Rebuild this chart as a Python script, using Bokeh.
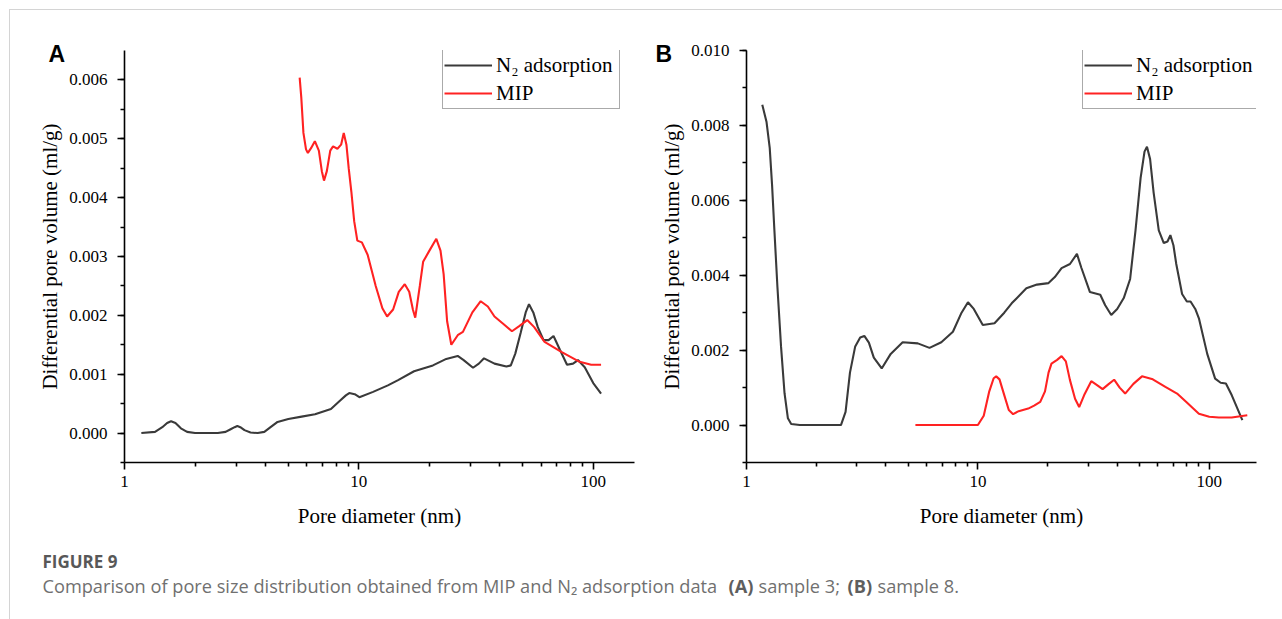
from bokeh.plotting import figure
from bokeh.layouts import column, row
from bokeh.models import (Range1d, FixedTicker, SingleIntervalTicker, NumeralTickFormatter,
                          Legend, LegendItem, Label)
from bokeh.embed import file_html
from bokeh.resources import INLINE

# ---------------- data ----------------
# Panel A (sample 3)
a_n2_x = [1.18, 1.35, 1.45, 1.52, 1.58, 1.65, 1.74, 1.85, 2.0, 2.5, 2.7, 2.85, 2.95, 3.03, 3.12,
          3.25, 3.45, 3.7, 3.95, 4.2, 4.5, 5.0, 5.7, 6.5, 7.6, 8.3, 8.8, 9.1, 9.6, 10.05, 11.5,
          13.3, 14.7, 17.2, 20.7, 23.6, 26.4, 28.0, 30.7, 32.5, 34.2, 37.9, 42.6, 44.5, 46.5,
          49.0, 51.5, 53.2, 55.5, 58.0, 61.4, 64.5, 67.7, 72.0, 77.3, 82.0, 86.1, 92.0, 100.0,
          108.0]
a_n2_y = [0.0, 0.00002, 0.0001, 0.00017, 0.0002, 0.00017, 0.00008, 0.00002, 0.0, 0.0, 0.00002,
          0.00007, 0.0001, 0.00012, 0.0001, 0.00005, 0.00001, 0.0, 0.00002, 0.0001, 0.00019,
          0.00024, 0.00028, 0.00032, 0.00041, 0.00055, 0.00064, 0.00068, 0.00066, 0.00061,
          0.0007, 0.00081, 0.0009, 0.00105, 0.00115, 0.00126, 0.00131, 0.00124, 0.00111,
          0.00118, 0.00127, 0.00118, 0.00113, 0.00115, 0.00135, 0.0017, 0.00205, 0.00219,
          0.00205, 0.0018, 0.00158, 0.00158, 0.00165, 0.00142, 0.00116, 0.00118, 0.00124,
          0.00112, 0.00085, 0.00067]
a_mip_x = [5.59, 5.68, 5.8, 5.95, 6.06, 6.25, 6.49, 6.75, 6.95, 7.1, 7.3, 7.55, 7.76, 8.1, 8.4,
           8.62, 8.85, 9.05, 9.29, 9.55, 9.85, 10.3, 10.9, 11.8, 12.6, 13.2, 14.0, 14.8, 15.7,
           16.4, 17.0, 17.4, 18.2, 18.8, 20.0, 21.4, 22.3, 23.0, 23.8, 24.8, 26.5, 27.8, 30.5,
           33.1, 35.5, 37.9, 41.5, 45.0, 48.5, 52.3, 56.0, 62.0, 73.1, 87.5, 98.0, 108.0]
a_mip_y = [0.00604, 0.0057, 0.0051, 0.00482, 0.00476, 0.00484, 0.00496, 0.0048, 0.00445,
           0.00429, 0.00445, 0.0048, 0.00487, 0.00483, 0.0049, 0.0051, 0.0049, 0.0045, 0.0041,
           0.0036, 0.00327, 0.00324, 0.00303, 0.0025, 0.00212, 0.00198, 0.0021, 0.0024,
           0.00253, 0.0024, 0.0021, 0.00196, 0.0025, 0.00291, 0.0031, 0.0033, 0.0031, 0.0027,
           0.0019, 0.0015, 0.00167, 0.00172, 0.00205, 0.00224, 0.00215, 0.00198, 0.00185,
           0.00173, 0.00182, 0.00192, 0.0018, 0.00155, 0.00138, 0.00121, 0.00116, 0.00116]

# Panel B (sample 8)
b_n2_x = [1.17, 1.22, 1.26, 1.29, 1.32, 1.36, 1.41, 1.46, 1.51, 1.56, 1.7, 2.56, 2.68, 2.8,
          2.95, 3.1, 3.23, 3.38, 3.55, 3.84, 4.2, 4.73, 5.5, 6.18, 6.95, 7.8, 8.5, 9.06, 9.6,
          10.5, 11.8, 13.0, 14.0, 16.2, 18.0, 20.2, 21.5, 23.0, 25.0, 26.8, 28.0, 30.5, 33.8,
          35.5, 37.7, 40.0, 42.7, 45.5, 48.0, 50.5, 52.5, 53.8, 55.5, 57.5, 60.5, 63.6, 66.0,
          67.9, 70.0, 72.0, 76.3, 80.0, 83.0, 87.0, 90.2, 98.0, 106.0, 112.0, 118.0, 125.0, 139.0]
b_n2_y = [0.00855, 0.0081, 0.0074, 0.0064, 0.0052, 0.0037, 0.0021, 0.00085, 0.00018, 0.00003,
          0.0, 0.0, 0.00035, 0.0014, 0.0021, 0.00234, 0.00238, 0.0022, 0.0018, 0.00151, 0.0019,
          0.00221, 0.00218, 0.00206, 0.00221, 0.00249, 0.003, 0.00328, 0.0031, 0.00267, 0.00272,
          0.003, 0.00325, 0.00365, 0.00375, 0.00379, 0.00395, 0.00419, 0.0043, 0.00457, 0.0042,
          0.00355, 0.00348, 0.0032, 0.00294, 0.0031, 0.00339, 0.0039, 0.0052, 0.0066, 0.0073,
          0.00743, 0.0071, 0.0062, 0.0052, 0.00486, 0.0049, 0.00507, 0.0048, 0.0043, 0.0035,
          0.0033, 0.0033, 0.0031, 0.00285, 0.0019, 0.00124, 0.00113, 0.00111, 0.0008, 0.00013]
b_mip_x = [5.37, 10.0, 10.6, 11.2, 11.7, 12.0, 12.4, 13.0, 13.6, 14.2, 15.0, 16.5, 17.5, 18.6,
           19.5, 20.2, 20.8, 22.0, 23.0, 24.0, 25.0, 26.3, 27.4, 28.8, 30.9, 32.5, 34.6, 36.5,
           38.8, 41.0, 43.3, 47.0, 51.2, 57.0, 64.6, 72.6, 80.0, 90.2, 100.0, 110.0, 125.0,
           146.0]
b_mip_y = [0.0, 0.0, 0.00025, 0.0009, 0.00125, 0.0013, 0.00122, 0.0008, 0.0004, 0.00029, 0.00037,
           0.00044, 0.00052, 0.00062, 0.0009, 0.0014, 0.00164, 0.00174, 0.00184, 0.0017, 0.0012,
           0.0007, 0.00048, 0.0008, 0.00117, 0.00108, 0.00096, 0.00108, 0.00121, 0.001, 0.00084,
           0.0011, 0.0013, 0.00122, 0.00102, 0.00084, 0.0006, 0.0003, 0.00022, 0.0002, 0.0002,
           0.00026]

x_major_ticks = [1, 10, 100]
x_minor_ticks = [2, 3, 4, 5, 6, 7, 8, 9, 20, 30, 40, 50, 60, 70, 80, 90]
series_labels = ["N\u2082 adsorption", "MIP"]
x_label = "Pore diameter (nm)"
y_label = "Differential pore volume (ml/g)"
panel_letters = ["A", "B"]
caption_title = "FIGURE 9"
caption_parts = ["Comparison of pore size distribution obtained from MIP and N\u2082 adsorption data",
                 "(A)", "sample 3;", "(B)", "sample 8."]

SERIF = "Liberation Serif"
N2_COLOR = "#3a3a3a"
MIP_COLOR = "#ff2222"
BORDER = "#d4d4d4"


def make_panel(letter, n2x, n2y, mipx, mipy, x_end, y_start, y_end, y_step,
               width, left, right, legend_x, letter_offset, styles, margin):
    p = figure(width=width, height=531, x_axis_type="log",
               x_range=Range1d(1, x_end), y_range=Range1d(y_start, y_end),
               min_border_left=left, min_border_right=right, min_border_top=40,
               min_border_bottom=79, toolbar_location=None, output_backend="svg",
               outline_line_color=None, margin=margin, styles=styles)
    p.xgrid.visible = False
    p.ygrid.visible = False
    r1 = p.line(n2x, n2y, line_color=N2_COLOR, line_width=2.1)
    r2 = p.line(mipx, mipy, line_color=MIP_COLOR, line_width=2.1)

    p.xaxis.ticker = FixedTicker(ticks=x_major_ticks, minor_ticks=x_minor_ticks)
    p.xaxis.formatter = NumeralTickFormatter(format="0")
    p.yaxis.ticker = SingleIntervalTicker(interval=y_step, num_minor_ticks=2)
    p.yaxis.formatter = NumeralTickFormatter(format="0.000")
    for ax in (p.xaxis[0], p.yaxis[0]):
        ax.axis_line_color = "black"
        ax.axis_line_width = 1.6
        ax.major_tick_line_color = "black"
        ax.minor_tick_line_color = "black"
        ax.major_tick_line_width = 1.6
        ax.minor_tick_line_width = 1.6
        ax.major_tick_in = 0
        ax.major_tick_out = 7
        ax.minor_tick_in = 0
        ax.minor_tick_out = 4
        ax.major_label_text_font = SERIF
        ax.major_label_text_font_size = "17px"
        ax.major_label_text_color = "black"
        ax.axis_label_text_font = SERIF
        ax.axis_label_text_font_size = "21px"
        ax.axis_label_text_font_style = "normal"
        ax.axis_label_text_color = "black"
    p.xaxis.major_label_standoff = 6
    p.yaxis.major_label_standoff = 10
    p.xaxis.axis_label = x_label
    p.yaxis.axis_label = y_label
    p.xaxis.axis_label_standoff = 14
    p.yaxis.axis_label_standoff = 4

    legend = Legend(items=[LegendItem(label=series_labels[0], renderers=[r1]),
                           LegendItem(label=series_labels[1], renderers=[r2])],
                    location=(legend_x, 353), border_line_color="#555555",
                    border_line_width=1, background_fill_alpha=1.0, padding=1,
                    spacing=0, margin=0, glyph_width=48, glyph_height=28,
                    label_height=28, label_width=122, label_standoff=4, label_text_font=SERIF,
                    label_text_font_size="21px", label_text_color="black")
    p.add_layout(legend)

    p.title.text = letter
    p.title.align = "left"
    p.title.offset = letter_offset
    p.title.standoff = -32
    p.title.text_font = "Liberation Sans"
    p.title.text_font_style = "bold"
    p.title.text_font_size = "23px"
    p.title.text_color = "black"
    return p


pa = make_panel(panel_letters[0], a_n2_x, a_n2_y, a_mip_x, a_mip_y, 150, -0.0005, 0.0065,
                0.001, 631, 114, 7, 318, -76,
                {"border-top": f"1px solid {BORDER}", "border-left": f"1px solid {BORDER}"},
                (9, 0, 0, 9))
pb = make_panel(panel_letters[1], b_n2_x, b_n2_y, b_mip_x, b_mip_y, 160, -0.001, 0.010,
                0.002, 642, 106, 26, 336, -91,
                {"border-top": f"1px solid {BORDER}"}, (9, 0, 0, 0))

cap = figure(width=1273, height=79, x_range=Range1d(0, 1), y_range=Range1d(0, 1),
             min_border=0, toolbar_location=None, output_backend="svg",
             x_axis_location=None, y_axis_location=None, outline_line_color=None,
             margin=(0, 0, 0, 9), styles={"border-left": f"1px solid {BORDER}"})
cap.grid.visible = False

cap.add_layout(Label(x=32, y=58, x_units="screen", y_units="screen", text=caption_title,
                     text_font="Open Sans", text_font_style="bold", text_font_size="17px",
                     text_color="#585858", text_baseline="alphabetic"))
cap_x = [32, 718, 748, 837, 867]
cap_bold = [False, True, False, True, False]
for t, xx, b in zip(caption_parts, cap_x, cap_bold):
    cap.add_layout(Label(x=xx, y=34, x_units="screen", y_units="screen", text=t,
                         text_font="Open Sans", text_font_style="bold" if b else "normal",
                         text_font_size="18.2px", text_color="#5e5e5e" if b else "#707070",
                         text_baseline="alphabetic"))

layout = column(row(pa, pb), cap)
open("out.html", "w").write(file_html(layout, INLINE))
